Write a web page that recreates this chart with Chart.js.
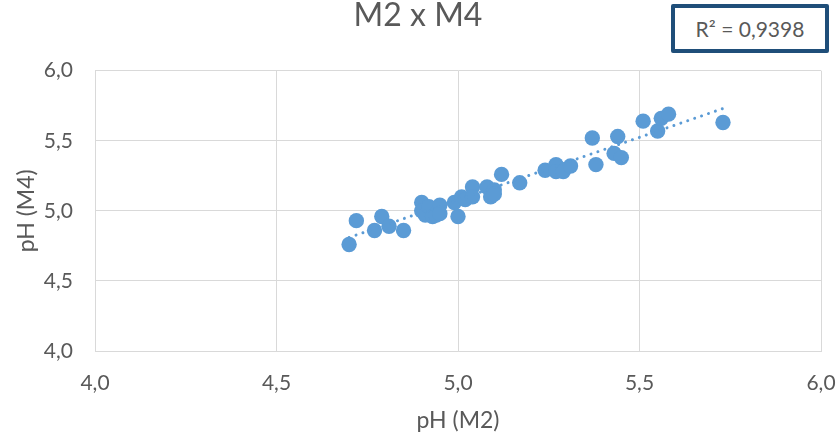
<!DOCTYPE html>
<html>
<head>
<meta charset="utf-8">
<script src="https://cdn.jsdelivr.net/npm/chart.js@4/dist/chart.umd.min.js"></script>
<style>
  html, body { margin: 0; padding: 0; background: #ffffff; }
  #wrap { position: relative; width: 838px; height: 436px; }
  #r2 {
    position: absolute; left: 671px; top: 4px; width: 150px; height: 41px;
    border: 4px solid #1F4E79; border-radius: 2px; background: #fff;
    font-family: Lato, "Open Sans", sans-serif; font-size: 21px; color: #595959;
    display: flex; align-items: center; justify-content: center;
  }
</style>
</head>
<body>
<div id="wrap">
  <canvas id="c" width="838" height="436"></canvas>
  <div id="r2">R² = 0,9398</div>
</div>
<script>
// ---- data ----
const titleText = "M2 x M4";
const xTitle = "pH (M2)";
const yTitle = "pH (M4)";
const phM2 = [4.70, 4.72, 4.77, 4.79, 4.81, 4.85, 4.90, 4.90, 4.91, 4.92, 4.93, 4.94, 4.95, 4.95, 4.99, 5.00, 5.01, 5.02, 5.04, 5.04, 5.08, 5.09, 5.10, 5.10, 5.12, 5.17, 5.24, 5.27, 5.27, 5.29, 5.31, 5.37, 5.38, 5.43, 5.44, 5.45, 5.51, 5.55, 5.56, 5.58, 5.73];
const phM4 = [4.76, 4.93, 4.86, 4.96, 4.89, 4.86, 5.06, 5.00, 4.97, 5.03, 4.96, 4.97, 5.04, 4.98, 5.06, 4.96, 5.10, 5.08, 5.17, 5.10, 5.17, 5.10, 5.15, 5.12, 5.26, 5.20, 5.29, 5.33, 5.28, 5.28, 5.32, 5.52, 5.33, 5.41, 5.53, 5.38, 5.64, 5.57, 5.66, 5.69, 5.63];
const trendX = [4.70, 5.73];
const trendY = [4.81, 5.73];
const axisTicks = [4.0, 4.5, 5.0, 5.5, 6.0];

const points = phM2.map((x, i) => ({ x: x, y: phM4[i] }));
const trend = trendX.map((x, i) => ({ x: x, y: trendY[i] }));

const FONT = "Lato, 'Open Sans', sans-serif";
const TXT = "#595959";
const GRID = "#D9D9D9";
const fmt = v => v.toFixed(1).replace(".", ",");

new Chart(document.getElementById("c"), {
  type: "scatter",
  data: {
    datasets: [
      {
        type: "line",
        data: trend,
        borderColor: "#5B9BD5",
        borderWidth: 3,
        borderDash: [0.01, 7.3],
        borderCapStyle: "round",
        pointRadius: 0,
        fill: false,
        tension: 0
      },
      {
        data: points,
        backgroundColor: "#5B9BD5",
        borderWidth: 0,
        pointRadius: 7.7,
        pointHoverRadius: 7.7
      }
    ]
  },
  options: {
    responsive: false,
    animation: false,
    events: [],
    layout: { padding: { top: 0, right: 17, bottom: 2, left: 15 } },
    plugins: {
      legend: { display: false },
      tooltip: { enabled: false },
      title: {
        display: true,
        text: titleText,
        color: TXT,
        font: { family: FONT, size: 32, weight: "normal", lineHeight: 1.0 },
        padding: { top: 0, bottom: 38.7 }
      }
    },
    scales: {
      x: {
        type: "linear",
        min: 4, max: 6,
        afterBuildTicks: s => { s.ticks = axisTicks.map(v => ({ value: v })); },
        afterFit: s => { s.height = 83; s.paddingLeft = 0; s.paddingRight = 0; },
        grid: { color: GRID, lineWidth: 1, drawTicks: false },
        border: { color: GRID, width: 1 },
        ticks: { color: TXT, padding: 20, font: { family: FONT, size: 21 }, callback: v => fmt(v), maxRotation: 0 },
        title: { display: true, text: xTitle, color: TXT, font: { family: FONT, size: 23, lineHeight: 1.2 }, padding: { top: 0, bottom: 0 } }
      },
      y: {
        type: "linear",
        min: 4, max: 6,
        afterBuildTicks: s => { s.ticks = axisTicks.map(v => ({ value: v })); },
        afterFit: s => { s.width = 80; s.paddingTop = 0; s.paddingBottom = 0; },
        grid: { color: GRID, lineWidth: 1, drawTicks: false },
        border: { color: GRID, width: 1 },
        ticks: { color: TXT, padding: 22, font: { family: FONT, size: 21 }, callback: v => fmt(v) },
        title: { display: true, text: yTitle, color: TXT, font: { family: FONT, size: 23, lineHeight: 1.0 }, padding: { top: 0, bottom: 0 } }
      }
    }
  }
});
</script>
</body>
</html>
